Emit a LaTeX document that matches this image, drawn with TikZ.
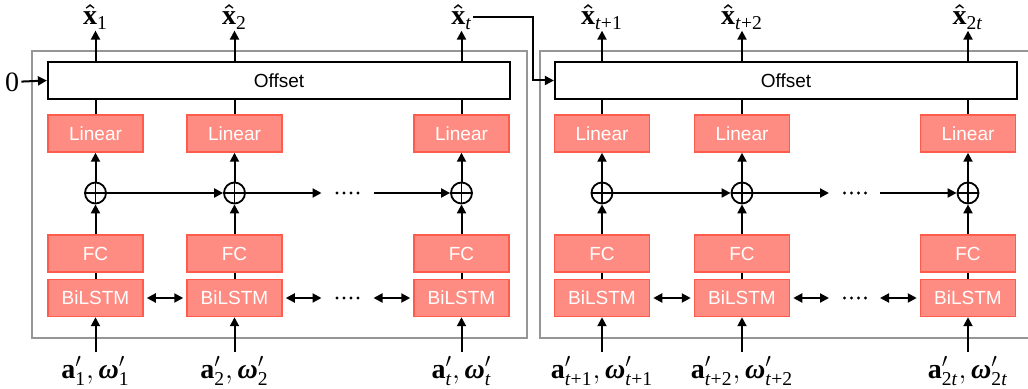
\documentclass[tikz,border=0pt]{standalone}
\usepackage{amsmath}
\usepackage{fontspec}
\setsansfont{Liberation Sans}
\newfontfamily\lser{Liberation Serif}
\usetikzlibrary{arrows.meta}

% serif pieces for the variable names
\newcommand{\serB}[1]{\text{\lser\bfseries #1}}
\newcommand{\serBI}[1]{\text{\lser\bfseries\itshape #1}}
\newcommand{\serR}[1]{\text{\lser #1}}
\newcommand{\xhat}[1]{\boldsymbol{\hat{\serB{x}}}_{\serR{#1}}}
\newcommand{\inpair}[1]{\serB{a}'_{\serR{#1}},\serBI{ω}'_{\serR{#1}}}

\definecolor{boxfill}{RGB}{255,140,130}
\definecolor{boxline}{RGB}{255,92,78}
\definecolor{framegray}{RGB}{150,150,150}

\tikzset{
  line/.style={line width=1pt, black},
  arr/.style={line, -{Triangle[length=4.5pt,width=4.5pt]}},
  darr/.style={line, {Triangle[length=4.5pt,width=4.5pt]}-{Triangle[length=4.5pt,width=4.5pt]}},
  layer/.style={draw=boxline, fill=boxfill, line width=0.75pt,
    minimum width=47.5pt, minimum height=18.5pt, inner sep=0pt,
    text=white, font=\sffamily\fontsize{9.5}{11}\selectfont},
  offsetbox/.style={draw, line width=1.1pt, fill=white,
    minimum width=231pt, minimum height=18.5pt, inner sep=0pt,
    font=\sffamily\fontsize{9.5}{11}\selectfont},
  frame/.style={draw=framegray, line width=1pt},
  sum/.style={circle, draw, line width=0.9pt, minimum size=10.5pt, inner sep=0pt,
    path picture={\draw[line width=0.9pt]
      (path picture bounding box.north) -- (path picture bounding box.south)
      (path picture bounding box.west) -- (path picture bounding box.east);}},
  outlbl/.style={inner sep=0.5pt, font=\fontsize{14}{16}\selectfont},
  inlbl/.style={inner sep=0pt, font=\fontsize{14}{16}\selectfont},
}

\begin{document}
\begin{tikzpicture}[x=0.5pt,y=-0.5pt]
\useasboundingbox (0,0) rectangle (1028,389);

% the two unrolled blocks
\draw[frame] (32,51) rectangle (527,338);
\draw[frame] (540,51) rectangle (1040,338);

\node[offsetbox] (offL) at (279,80.5) {Offset};
\node[offsetbox] (offR) at (786,80.5) {Offset};

\foreach \p/\a/\b/\c in {L/95.5/234.5/461.5, R/602/742/968}{
  \foreach \i/\x in {1/\a,2/\b,3/\c}{
    \node[layer] (lin\p\i) at (\x,133.5) {Linear};
    \node[sum]   (sum\p\i) at (\x,193) {};
    \node[layer] (fc\p\i)  at (\x,253.5) {FC};
    \node[layer] (bl\p\i)  at (\x,298) {BiLSTM};
    \draw[line] (off\p.south -| lin\p\i) -- (lin\p\i);
    \draw[arr]  (sum\p\i) -- (lin\p\i);
    \draw[arr]  (fc\p\i) -- (sum\p\i);
    \draw[line] (bl\p\i) -- (fc\p\i);
  }
  % recurrence along the sums
  \coordinate (sa\p) at (\b+87,193);
  \coordinate (sb\p) at (\c-88,193);
  \draw[arr] (sum\p1) -- (sum\p2);
  \draw[arr] (sum\p2) -- (sa\p);
  \draw[arr] (sb\p) -- (sum\p3);
  % bidirectional links between BiLSTM cells
  \coordinate (ba\p) at (\b+87,298);
  \coordinate (bb\p) at (\c-88,298);
  \draw[darr, shorten <=1.5pt, shorten >=1.5pt] (bl\p1) -- (bl\p2);
  \draw[darr, shorten <=1.5pt] (bl\p2) -- (ba\p);
  \draw[darr, shorten >=1.5pt] (bb\p) -- (bl\p3);
  % ellipses
  \foreach \k in {-1.5,-0.5,0.5,1.5}{
    \fill (\b+113+7*\k,193) circle (0.8pt);
    \fill (\b+113+7*\k,298) circle (0.8pt);
  }
}

% outputs
\node[outlbl] (yL1) at (95.5,17) {$\xhat{1}$};
\node[outlbl] (yL2) at (234.5,17) {$\xhat{2}$};
\node[outlbl] (yL3) at (461.5,17) {$\xhat{\itshape t}$};
\node[outlbl] (yR1) at (602,17) {$\xhat{\textit{t}+1}$};
\node[outlbl] (yR2) at (742,17) {$\xhat{\textit{t}+2}$};
\node[outlbl] (yR3) at (968,17) {$\xhat{2\textit{t}}$};
\foreach \p in {L,R}{
  \foreach \i in {1,2,3}{
    \draw[arr] (off\p.north -| y\p\i) -- (y\p\i.south);
  }
}

% inputs
\node[inlbl] (xL1) at (95.5,371) {$\inpair{1}$};
\node[inlbl] (xL2) at (234.5,371) {$\inpair{2}$};
\node[inlbl] (xL3) at (461.5,371) {$\inpair{\itshape t}$};
\node[inlbl] (xR1) at (602,371) {$\inpair{\textit{t}+1}$};
\node[inlbl] (xR2) at (742,371) {$\inpair{\textit{t}+2}$};
\node[inlbl] (xR3) at (968,371) {$\inpair{2\textit{t}}$};
\foreach \p in {L,R}{
  \foreach \i in {1,2,3}{
    \draw[arr, shorten <=2pt] (x\p\i.north -| bl\p\i) -- (bl\p\i.south);
  }
}

% initial offset and hand-over between blocks
\node[inner sep=1pt, font=\lser\fontsize{14}{16}\selectfont] (zero) at (12,82) {0};
\draw[arr] (zero) -- (offL.west);
\coordinate (bend) at (533,17);
\draw[arr] (yL3.east |- bend) -- (bend) |- (offR.west);
\end{tikzpicture}
\end{document}
